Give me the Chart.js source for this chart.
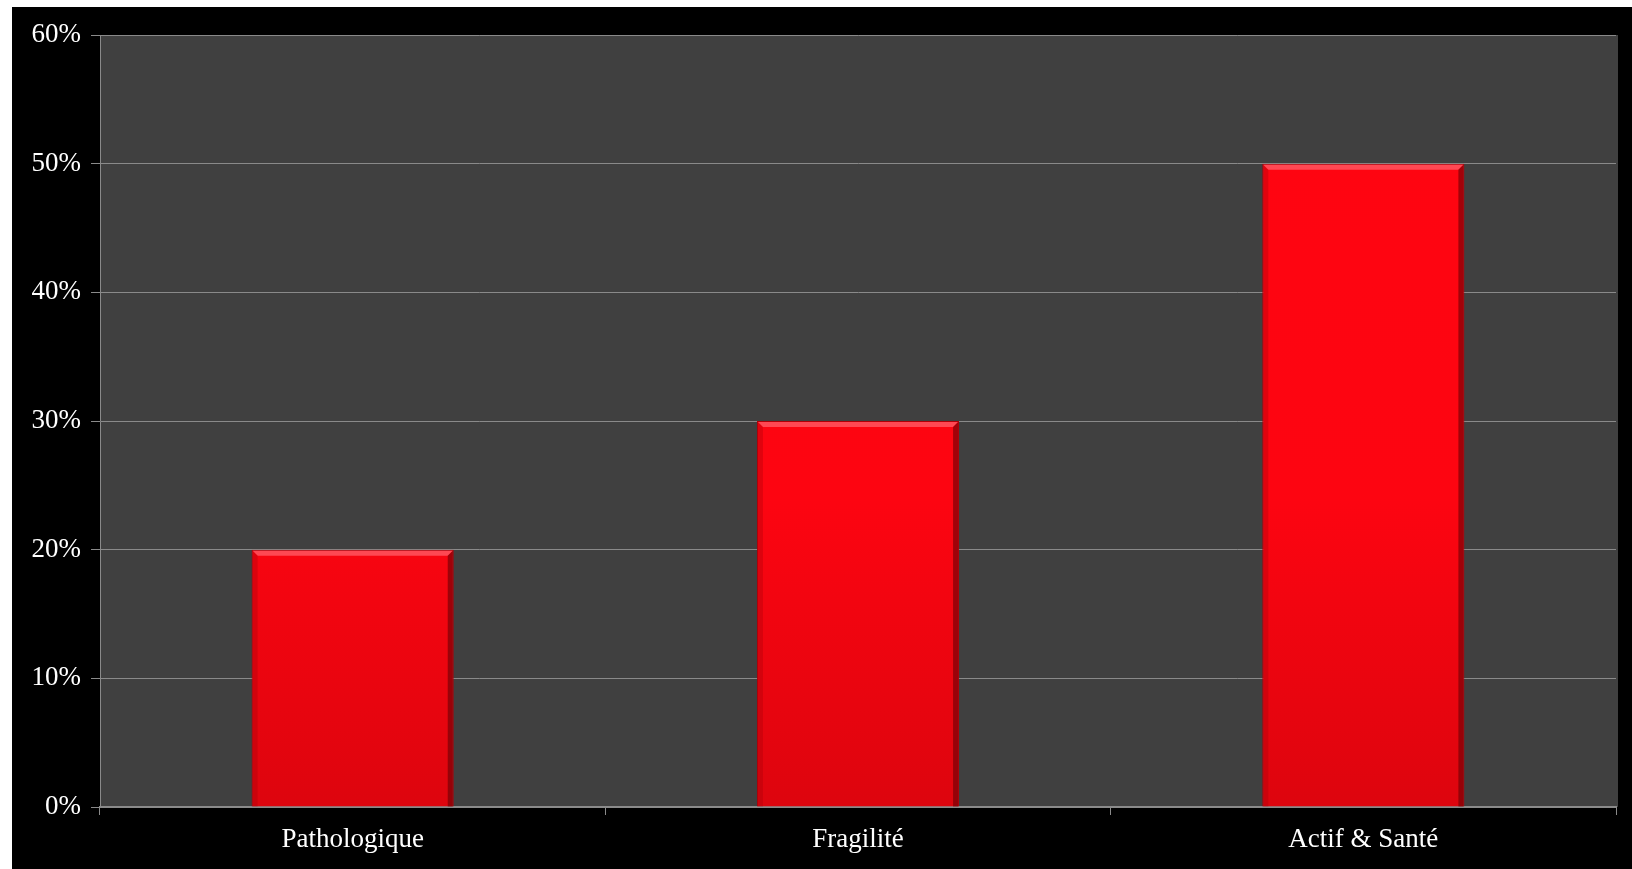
<!DOCTYPE html>
<html>
<head>
<meta charset="utf-8">
<script src="https://cdn.jsdelivr.net/npm/chart.js@4/dist/chart.umd.min.js"></script>
<style>
  html, body { margin: 0; padding: 0; background: #fff; }
  #wrap { position: absolute; left: 12px; top: 7px; width: 1620px; height: 862px; background: #000; }
  #chart { display: block; }
</style>
</head>
<body>
<div id="wrap"><canvas id="chart" width="1620" height="862"></canvas></div>
<script>
// categories and shares (percent)
const categories = ['Pathologique', 'Fragilité', 'Actif & Santé'];
const shares = [20, 30, 50];
const yTicks = [0, 10, 20, 30, 40, 50, 60];

const axisGray = '#8a8a8a';
const labelFont = { family: '"Liberation Serif", "Times New Roman", serif', size: 27 };

// dark gray plot background
const plotBg = {
    id: 'plotBg',
    beforeDraw(chart) {
        const a = chart.chartArea;
        const ctx = chart.ctx;
        ctx.save();
        ctx.fillStyle = '#404040';
        ctx.fillRect(a.left, a.top, a.right - a.left + 2, a.bottom - a.top);
        ctx.restore();
    }
};

// bevel look on the bars: light top edge, dark sides
const bevel = {
    id: 'bevel',
    afterDatasetsDraw(chart) {
        const ctx = chart.ctx;
        chart.getDatasetMeta(0).data.forEach(bar => {
            const left = bar.x - bar.width / 2;
            const right = bar.x + bar.width / 2;
            const top = bar.y;
            const bottom = bar.base;
            const d = 6;
            ctx.save();
            // top highlight
            ctx.fillStyle = 'rgba(255,95,105,0.75)';
            ctx.beginPath();
            ctx.moveTo(left + 1, top + 1);
            ctx.lineTo(right - 1, top + 1);
            ctx.lineTo(right - d, top + d);
            ctx.lineTo(left + d, top + d);
            ctx.closePath();
            ctx.fill();
            // left shade
            ctx.fillStyle = 'rgba(160,0,10,0.3)';
            ctx.beginPath();
            ctx.moveTo(left + 1, top + 1);
            ctx.lineTo(left + d, top + d);
            ctx.lineTo(left + d, bottom);
            ctx.lineTo(left + 1, bottom);
            ctx.closePath();
            ctx.fill();
            // right shade
            ctx.fillStyle = 'rgba(100,0,5,0.6)';
            ctx.beginPath();
            ctx.moveTo(right - 1, top + 1);
            ctx.lineTo(right - d, top + d);
            ctx.lineTo(right - d, bottom);
            ctx.lineTo(right - 1, bottom);
            ctx.closePath();
            ctx.fill();
            ctx.restore();
        });
    }
};

function barFill(context) {
    const chart = context.chart;
    const a = chart.chartArea;
    if (!a) return '#ff0510';
    const g = chart.ctx.createLinearGradient(0, a.top, 0, a.bottom);
    g.addColorStop(0, '#ff0511');
    g.addColorStop(0.6, '#fd0511');
    g.addColorStop(1, '#dd050e');
    return g;
}

new Chart(document.getElementById('chart'), {
    type: 'bar',
    data: {
        labels: categories,
        datasets: [{
            data: shares,
            backgroundColor: barFill,
            borderColor: '#b00008',
            borderWidth: 1,
            borderSkipped: 'bottom',
            barPercentage: 0.4,
            categoryPercentage: 1
        }]
    },
    options: {
        responsive: false,
        animation: false,
        layout: { padding: { top: 28, right: 16, left: 0, bottom: 0 } },
        plugins: { legend: { display: false }, tooltip: { enabled: false } },
        scales: {
            x: {
                offset: true,
                grid: { display: true, drawOnChartArea: false, offset: true, color: axisGray, tickLength: 8 },
                border: { color: axisGray, width: 2 },
                ticks: { color: '#fff', font: labelFont, padding: 9 },
                afterFit(scale) { scale.height = 62; }
            },
            y: {
                min: 0,
                max: 60,
                afterBuildTicks(scale) { scale.ticks = yTicks.map(v => ({ value: v })); },
                grid: { color: axisGray, lineWidth: 1, tickLength: 9 },
                border: { color: axisGray, width: 1 },
                ticks: { color: '#fff', font: labelFont, padding: 10, callback: v => v + '%' },
                afterFit(scale) { scale.width = 88; }
            }
        }
    },
    plugins: [plotBg, bevel]
});
</script>
</body>
</html>
